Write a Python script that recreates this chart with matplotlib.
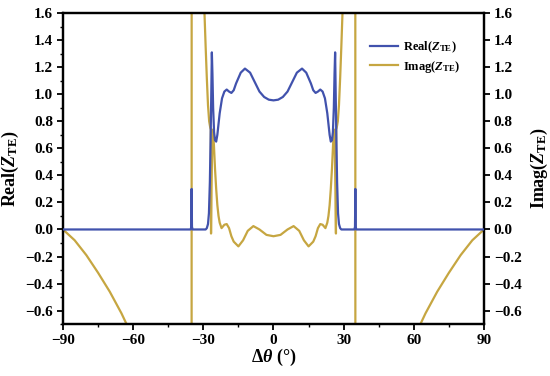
import numpy as np
import matplotlib
matplotlib.use("Agg")
from matplotlib import pyplot as plt

# data (degrees)
real_x = [-90, -35.4, -35.15, -35.0, -34.85, -34.6, -29.0, -28.5, -28.0, -27.6, -27.2, -26.9, -26.6,
          -26.35, -26.1, -25.8, -25.4, -25.0, -24.5, -24.0, -23.0, -22.0, -21.0, -20.0, -19.0, -18.0,
          -17.0, -16.0, -14.0, -12.2, -10.0, -8.0, -6.0, -4.0, -2.0, 0,
          2.0, 4.0, 6.0, 8.0, 10.0, 12.2, 14.0, 16.0, 17.0, 18.0, 19.0, 20.0, 21.0, 22.0, 23.0, 24.0,
          24.5, 25.0, 25.4, 25.8, 26.1, 26.35, 26.6, 26.9, 27.2, 27.6, 28.0, 28.5, 29.0, 34.6, 34.85,
          35.0, 35.15, 35.4, 90]
real_y = [0, 0, 0.02, 0.3, 0.02, 0, 0, 0.01, 0.04, 0.12, 0.35, 0.65, 1.0,
          1.31, 1.15, 0.9, 0.72, 0.66, 0.65, 0.70, 0.86, 0.97, 1.02, 1.035, 1.02, 1.01,
          1.03, 1.08, 1.16, 1.19, 1.16, 1.09, 1.02, 0.98, 0.96, 0.955,
          0.96, 0.98, 1.02, 1.09, 1.16, 1.19, 1.16, 1.08, 1.03, 1.01, 1.02, 1.035, 1.02, 0.97, 0.86, 0.70,
          0.65, 0.66, 0.72, 0.9, 1.15, 1.31, 1.0, 0.65, 0.35, 0.12, 0.04, 0.01, 0, 0, 0.02,
          0.3, 0.02, 0, 0]

imag_x = [-90, -85, -80, -75, -70, -65, -62, -55, -45, -35.05, -34.95, -31, -30, -29.5, -29, -28.5,
          -28, -27.5, -27.0, -26.8, -26.7, -26.5, -26.2, -25.8, -25.4, -25.0, -24.5, -24.0, -23.5,
          -23.0, -22.2, -21.0, -20.0, -19.0, -18.0, -17.0, -15.0, -13.0, -11.0, -8.6, -6.0, -3.0, 0,
          3.0, 6.0, 8.6, 11.0, 13.0, 15.0, 17.0, 18.0, 19.0, 20.0, 21.0, 22.2, 23.0, 23.5, 24.0,
          24.5, 25.0, 25.4, 25.8, 26.2, 26.5, 26.7, 26.8, 27.0, 27.5, 28, 28.5, 29, 29.5, 30, 31,
          34.95, 35.05, 45, 55, 62, 65, 70, 75, 80, 85, 90]
imag_y = [0, -0.08, -0.19, -0.32, -0.46, -0.62, -0.73, -1.1, -2.0, -6, 6, 2.6, 2.0, 1.6, 1.35, 1.12,
          0.92, 0.8, 0.75, 0.74, -0.03, 0.3, 0.62, 0.74, 0.6, 0.45, 0.3, 0.18, 0.1,
          0.05, 0.01, 0.035, 0.04, 0.01, -0.05, -0.09, -0.125, -0.08, -0.01, 0.025, 0.0, -0.04, -0.05,
          -0.04, 0.0, 0.025, -0.01, -0.08, -0.125, -0.09, -0.05, 0.01, 0.04, 0.035, 0.01, 0.05, 0.1, 0.18,
          0.3, 0.45, 0.6, 0.74, 0.62, 0.3, -0.03, 0.74, 0.75, 0.8, 0.92, 1.12, 1.35, 1.6, 2.0, 2.6,
          6, -6, -2.0, -1.1, -0.73, -0.62, -0.46, -0.32, -0.19, -0.08, 0]

x_ticks = [-90, -60, -30, 0, 30, 60, 90]
y_ticks = [-0.6, -0.4, -0.2, 0.0, 0.2, 0.4, 0.6, 0.8, 1.0, 1.2, 1.4, 1.6]

blue = '#4152ad'
gold = '#c6a641'

plt.rcParams['font.family'] = ['Liberation Serif', 'DejaVu Serif']
plt.rcParams['font.weight'] = 'bold'
plt.rcParams['mathtext.fontset'] = 'custom'
plt.rcParams['mathtext.rm'] = 'Liberation Serif:bold'
plt.rcParams['mathtext.it'] = 'Liberation Serif:italic:bold'
plt.rcParams['mathtext.bf'] = 'Liberation Serif:bold'

fig = plt.figure(figsize=(5.5, 3.76), dpi=100)
ax = fig.add_axes([0.1145, 0.138, 0.7655, 0.827])
ax2 = ax.twinx()

l1, = ax.plot(real_x, real_y, color=blue, lw=1.6, label=r'Real($Z_{\rm TE}$)', zorder=3)
l2, = ax2.plot(imag_x, imag_y, color=gold, lw=1.6, label=r'Imag($Z_{\rm TE}$)')
ax.set_zorder(ax2.get_zorder() + 1)
ax.patch.set_visible(False)

for a in (ax, ax2):
    a.set_xlim(-90, 90)
    a.set_ylim(-0.7, 1.6)
    a.set_yticks(y_ticks)
    a.set_yticklabels([f'{v:.1f}'.replace('-', '\u2212') for v in y_ticks])
    for s in a.spines.values():
        s.set_linewidth(1.6)

ax.set_xticks(x_ticks)
ax.set_xticklabels([str(v).replace('-', '\u2212') for v in x_ticks])
ax.set_xticks(np.arange(-75, 90, 30), minor=True)
ax.set_yticks(np.arange(-0.7, 1.61, 0.1), minor=True)
ax.tick_params(which='major', direction='out', length=4, width=1.3, labelsize=11, pad=3)
ax.tick_params(which='minor', direction='out', length=2.5, width=1.0)
ax2.tick_params(which='major', direction='out', length=4, width=1.3, labelsize=11, pad=3)

ax.set_xlabel(r'$\Delta\theta$ (°)', fontsize=13, fontweight='bold', labelpad=0)
ax.set_ylabel(r'Real($Z_{\rm TE}$)', fontsize=13, fontweight='bold', labelpad=3)
ax2.set_ylabel(r'Imag($Z_{\rm TE}$)', fontsize=13, fontweight='bold', labelpad=5)

ax.legend([l1, l2], [l1.get_label(), l2.get_label()], loc='upper right',
          bbox_to_anchor=(0.97, 0.95), frameon=False, fontsize=9,
          handlelength=2.2, handletextpad=0.4, labelspacing=0.25)

fig.savefig('out.png', dpi=100)
